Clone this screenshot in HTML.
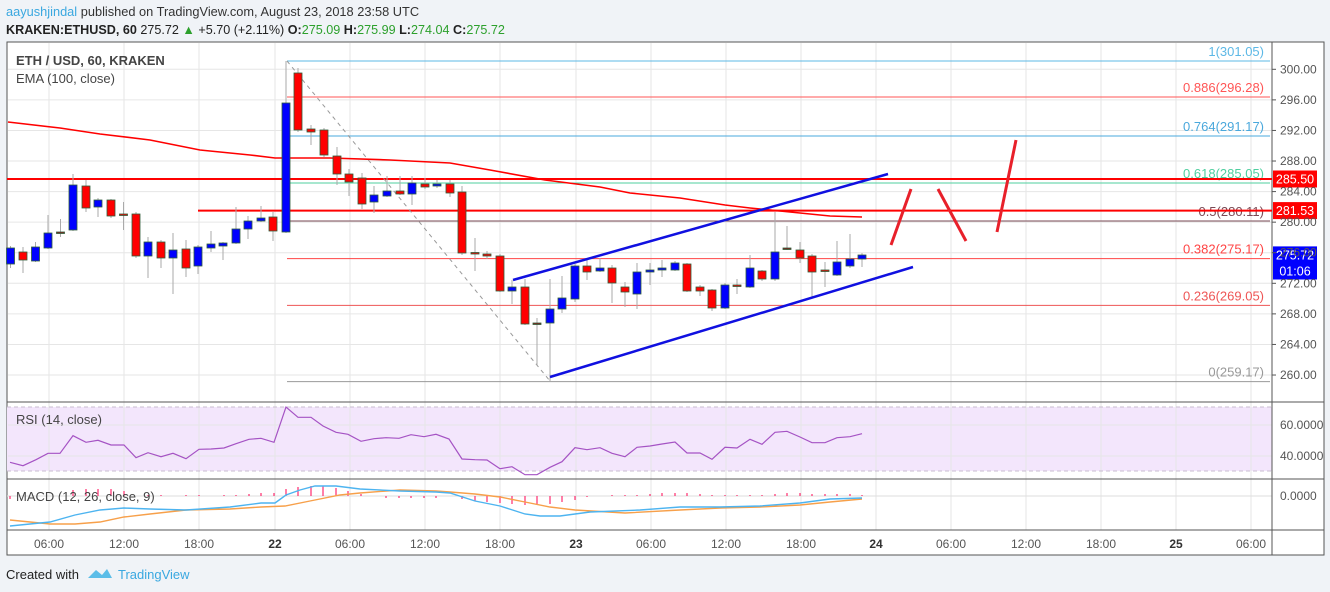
<!DOCTYPE html>
<html><head><meta charset="utf-8"><style>
html,body{margin:0;padding:0;background:#f0f3f7;width:1330px;height:592px;overflow:hidden;font-family:"Liberation Sans",sans-serif}
svg{position:absolute;left:0;top:0}
</style></head><body>
<svg id="s" width="1330" height="592" viewBox="0 0 1330 592" xmlns="http://www.w3.org/2000/svg" font-family="Liberation Sans, sans-serif">
<rect x="0" y="0" width="1330" height="592" fill="#f0f3f7"/>
<text x="6" y="16" font-size="12.8" fill="#3aa8e0">aayushjindal<tspan fill="#333"> published on TradingView.com, August 23, 2018 23:58 UTC</tspan></text>
<text x="6" y="34" font-size="12.6" fill="#222"><tspan font-weight="bold">KRAKEN:ETHUSD, 60</tspan> 275.72 <tspan fill="#2ca02c">▲</tspan> +5.70 (+2.11%) <tspan font-weight="bold">O:</tspan><tspan fill="#2ca02c">275.09</tspan> <tspan font-weight="bold">H:</tspan><tspan fill="#2ca02c">275.99</tspan> <tspan font-weight="bold">L:</tspan><tspan fill="#2ca02c">274.04</tspan> <tspan font-weight="bold">C:</tspan><tspan fill="#2ca02c">275.72</tspan></text>
<rect x="7" y="42" width="1317" height="513" fill="#fff" stroke="#555" stroke-width="1"/>
<rect x="7" y="407" width="1265" height="64" fill="#f3e6fc"/>
<g id="grid" stroke="#e6e6e6" stroke-width="1"></g>
<line x1="7" y1="407" x2="1272" y2="407" stroke="#c8bcd0" stroke-dasharray="4,3"/>
<line x1="7" y1="471" x2="1272" y2="471" stroke="#c8bcd0" stroke-dasharray="4,3"/>
<line x1="7" y1="496" x2="1272" y2="496" stroke="#ddd"/>
<line x1="7" y1="402" x2="1324" y2="402" stroke="#555"/>
<line x1="7" y1="479" x2="1324" y2="479" stroke="#555"/>
<line x1="7" y1="530" x2="1324" y2="530" stroke="#555"/>
<line x1="1272" y1="42" x2="1272" y2="555" stroke="#555"/>
<g id="fib"></g>
<g id="ema"></g>
<g id="cand"></g>
<g id="draw"></g>
<g id="ind"></g>
<g id="lbl" font-size="12" fill="#555"></g>
<text x="16" y="65" font-size="13" font-weight="bold" fill="#444">ETH / USD, 60, KRAKEN</text>
<text x="16" y="83" font-size="13" fill="#444">EMA (100, close)</text>
<text x="16" y="424" font-size="13" fill="#444">RSI (14, close)</text>
<text x="16" y="501" font-size="13" fill="#444">MACD (12, 26, close, 9)</text>
<text x="6" y="579" font-size="13" fill="#222">Created with</text>
<path d="M88 578 L96 570 L102 575 L107 569 L112 578 Z" fill="#5bbde8"/>
<text x="118" y="579" font-size="13" fill="#3aa8e0">TradingView</text>
</svg>
<script>
var NS="http://www.w3.org/2000/svg";
function el(p,t,a,txt){var e=document.createElementNS(NS,t);for(var k in a)e.setAttribute(k,a[k]);if(txt!=null)e.textContent=txt;document.getElementById(p).appendChild(e);return e;}
function Y(p){return 69.3+(300-p)*7.643;}
var vx=[49,124,199,275,350,425,500,576,651,726,801,876,951,1026,1101,1176,1251];
vx.forEach(function(x){el("grid","line",{x1:x,y1:43,x2:x,y2:530});});
for(var p=260;p<=300;p+=4){var y=Y(p);el("grid","line",{x1:8,y1:y,x2:1272,y2:y});el("lbl","line",{x1:1272,y1:y,x2:1276,y2:y,stroke:"#555"});el("lbl","text",{x:1280,y:y+4},p.toFixed(2));}
[[425,"60.0000"],[456,"40.0000"]].forEach(function(a){el("grid","line",{x1:8,y1:a[0],x2:1272,y2:a[0]});el("lbl","text",{x:1280,y:a[0]+4},a[1]);});
el("lbl","text",{x:1280,y:500},"0.0000");
var tl=["06:00","12:00","18:00","22","06:00","12:00","18:00","23","06:00","12:00","18:00","24","06:00","12:00","18:00","25","06:00"];
vx.forEach(function(x,i){var b=/^\d\d$/.test(tl[i]);el("lbl","text",{x:x,y:548,"text-anchor":"middle","font-weight":b?"bold":"normal",fill:b?"#333":"#555"},tl[i]);});
var fib=[[61,"#5cb8e6","1(301.05)"],[97,"#f55","0.886(296.28)"],[136,"#4aa8dc","0.764(291.17)"],[183,"#4fcf9f","0.618(285.05)"],[221,"#7a4a55","0.5(280.11)"],[258.6,"#f44","0.382(275.17)"],[305.4,"#e55","0.236(269.05)"],[381.6,"#999","0(259.17)"]];
fib.forEach(function(f){el("fib","line",{x1:287,y1:f[0],x2:1270,y2:f[0],stroke:f[1],"stroke-width":1});el("fib","text",{x:1264,y:f[0]-5,"text-anchor":"end","font-size":13,fill:f[1]},f[2]);});
el("fib","line",{x1:7,y1:179,x2:1272,y2:179,stroke:"#f00","stroke-width":2});
el("fib","line",{x1:198,y1:210.6,x2:1272,y2:210.6,stroke:"#f00","stroke-width":2});
el("fib","line",{x1:287,y1:61,x2:550,y2:381,stroke:"#999","stroke-dasharray":"4,4"});
el("ema","polyline",{points:"8,122 60,128 100,134 150,140 200,150 250,155 275,158 300,158 330,158 390,160 450,163 490,170 545,180 600,187 630,193 680,198 725,205 750,208 780,211 800,213 830,216 862,217",fill:"none",stroke:"#f00","stroke-width":1.6});
var C=[[10.5,248,264,246,268,1],[23,252,260,247,273,0],[35.5,247,261,242,262,1],[48,233,248,215,249,1],[60.5,232,233.5,219,237,2],[73,185,230,174,231,1],[86,186,208,180,212,0],[98,200,207,198,217,1],[111,200,216,199,218,0],[123.5,214,215,202,230,0],[136,214,256,212,258,0],[148,242,256,237,278,1],[161,242,258,240,268,0],[173,250,258,233,294,1],[186,249,268,240,277,0],[198,247,266,245,274,1],[211,244,248,231,252,1],[223,243,246,242,260,1],[236,229,243,207,244,1],[248,221,229,216,239,1],[261,218,221,206,222,1],[273,217,231,212,241,0],[286,103,232,61,233,1],[298,73,130,68,132,0],[311,129,132,125,145,0],[324,130,155,128,157,0],[337,156,174,147,185,0],[349,174,182,169,196,0],[362,178,204,173,209,0],[374,195,202,186,213,1],[387,191,196,176,197,1],[400,191,194,176,195,0],[412,183,194,176,205,1],[425,184,187,178,189,0],[437,184,186,180,188,1],[450,184,193,180,197,0],[462,192,253,186,255,0],[475,252.5,254,238,271,0],[487,254,256,251,259,0],[500,256,291,254,292,0],[512,287,291,280,304,1],[525,287,324,279,325,0],[537,323,324,318,365,2],[550,309,323,279,381,1],[562,298,309,276,313,1],[575,266,299,264,302,1],[587,266,272,260,280,0],[600,268,271,258,272,1],[612,268,283,265,303,0],[625,287,292,282,307,0],[637,272,294,263,309,1],[650,270,272,263,285,1],[662,268,270,260,277,1],[675,263,270,261,271,1],[687,264,291,263,292,0],[700,287,291,285,296,0],[712,290,308,289,311,0],[725,285,308,283,309,1],[737,285,286.5,279,294,0],[750,268,287,255,288,1],[762,271,279,270,281,0],[775,252,279,212,281,1],[787,248,249.5,226,250,2],[800,250,258,242,263,0],[812,256,272,254,297,0],[825,270,271.5,262,287,0],[837,262,275,241,276,1],[850,259,266,234,268,1],[862,255,259,253,267,1]];
C.forEach(function(c){var col=c[5]==1?"#0000ff":(c[5]==0?"#ff0000":"#8b1a1a");
el("cand","line",{x1:c[0],y1:c[3],x2:c[0],y2:c[4],stroke:"#aaa","stroke-width":1});
var h=Math.max(c[2]-c[1],1.5);el("cand","rect",{x:c[0]-4,y:c[1],width:8,height:h,fill:col,stroke:"#2f5e3a","stroke-width":0.8});});
el("draw","line",{x1:513,y1:280,x2:888,y2:174,stroke:"#1010e0","stroke-width":2.5});
el("draw","line",{x1:550,y1:377,x2:913,y2:267,stroke:"#1010e0","stroke-width":2.5});
[[891,245,911,189],[938,189,966,241],[997,232,1016,140]].forEach(function(l){el("draw","line",{x1:l[0],y1:l[1],x2:l[2],y2:l[3],stroke:"#e8202a","stroke-width":3});});
[[179,"#f00","285.50"],[210.6,"#f00","281.53"],[254.9,"#00f","275.72"],[271,"#00f","01:06"]].forEach(function(b){el("draw","rect",{x:1273,y:b[0]-8.5,width:44,height:17,fill:b[1]});el("draw","text",{x:1295,y:b[0]+4.5,"text-anchor":"middle","font-size":12.5,fill:"#fff"},b[2]);});
el("ind","polyline",{fill:"none",stroke:"#a553c4","stroke-width":1.2,points:"10,462.3 23,465.7 36,459.7 48,453.3 60,453.3 73,435.7 86,442.3 98,440.3 111,445 124,445 136,457.7 148,452.7 161,456.7 173,453.3 186,458.7 199,449.3 211,449 224,448 236,443.7 249,439.3 261,438.3 274,442.3 286,407 298,417.3 311,417.3 323,426 336,432.3 348,434.3 361,441.3 374,438.7 386,437.7 399,438.3 411,434.7 424,436.7 436,434.3 449,439 462,459 475,459.7 487,460 500,468.7 512,466.7 525,474.7 537,474.7 550,467.3 562,461.7 575,447.7 587,449.7 600,447.7 612,453.3 625,456.7 637,447.3 650,446 662,444 675,442 687,453 700,453 712,459.3 725,447.3 737,448 750,439.3 762,444.3 775,432.3 787,431.3 800,437 812,442.7 825,442.7 837,437.7 850,436.7 862,433.7"});
var H=[[10,3],[73,-6],[86,-7],[98,-7],[111,-7],[124,-5],[148,-1],[161,-1],[186,-1],[199,-1],[224,-1],[236,-1],[249,-2],[261,-3],[274,-3],[286,-7],[298,-9],[311,-10],[323,-10],[336,-8],[348,-5],[361,-2],[386,2],[399,2],[411,2],[424,2],[436,2],[462,3],[475,5],[487,6],[500,7],[512,8],[525,9],[537,9],[550,8],[562,6],[575,4],[587,1],[612,-1],[625,-1],[637,-1],[650,-2],[662,-3],[675,-3],[687,-3],[700,-2],[712,-1],[725,-1],[737,-1],[750,-1],[762,-1],[775,-2],[787,-3],[800,-3],[812,-2],[825,-2],[837,-2],[850,-2],[862,-1]];
H.forEach(function(h){el("ind","line",{x1:h[0],y1:496,x2:h[0],y2:496+h[1],stroke:"#ff2a6d","stroke-width":1.2});});
el("ind","polyline",{fill:"none",stroke:"#f7a04a","stroke-width":1.4,points:"10,520 50,524 75,524 100,522 124,517 150,514 186,510 230,509 261,507 285,506 310,501 340,495 360,493 400,490 436,491 450,492 475,494 500,497 525,502 550,507 575,510 625,513 680,510 720,508 760,507 800,505 830,502 862,499"});
el("ind","polyline",{fill:"none",stroke:"#4db4f0","stroke-width":1.4,points:"10,526 50,522 75,515 100,510 124,508 150,509 186,510 230,507 261,503 275,503 286,495 300,490 315,486 336,486 360,489 400,491 436,492 450,493 475,501 500,506 525,514 540,516 560,516 590,512 640,510 680,507 720,507 760,506 800,503 830,499 862,498"});
</script>
</body></html>
